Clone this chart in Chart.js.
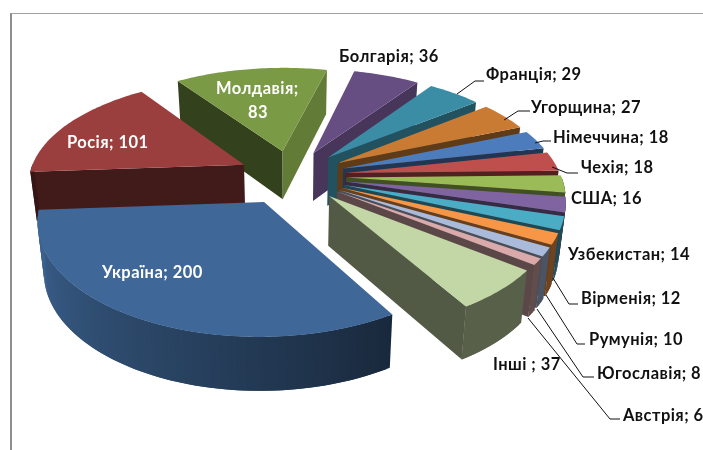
<!DOCTYPE html>
<html>
<head>
<meta charset="utf-8">
<title>Pie</title>
<script src="https://cdn.jsdelivr.net/npm/chart.js@4"></script>
<style>
html, body { margin: 0; padding: 0; background: #fff; }
#wrap { position: relative; width: 703px; height: 450px; overflow: hidden; }
#frame { position: absolute; left: 10px; top: 13px; right: -3px; bottom: -3px; border-left: 2px solid #8e8e8e; border-top: 1px solid #a0a0a0; }
canvas { position: absolute; left: 0; top: 0; }
</style>
</head>
<body>
<div id="wrap">
	<canvas id="pie-chart" width="703" height="450"></canvas>
	<div id="frame"></div>
</div>
<script>
var categories = ['Україна', 'Росія', 'Молдавія', 'Болгарія', 'Франція', 'Угорщина', 'Німеччина', 'Чехія', 'США', 'Узбекистан', 'Вірменія', 'Румунія', 'Югославія', 'Австрія', 'Інші '];
var values = [200, 101, 83, 36, 29, 27, 18, 18, 16, 14, 12, 10, 8, 6, 37];
var sliceColors = ['#3f6797', '#9b3f3e', '#7b9a45', '#674e82', '#3b8da6', '#c97b33', '#4c7cbb', '#be4f4c', '#9bbb59', '#8064a2', '#4bacc6', '#f79646', '#a9badb', '#d9aaa9', '#c3d6a5'];
var sliceOffsets = [42, 39, 39, 39, 39, 39, 39, 39, 39, 39, 39, 39, 39, 39, 39];

// label text anchors (left x, baseline y)
var labelX = [102, 67, 216, 339, 486, 531, 553, 581, 571, 568, 581, 589, 597, 623, 493];
var labelY = [278, 148, 94, 62, 80, 113, 143, 173, 204, 260, 304, 345, 379, 421, 370];
var labelWhite = [true, true, true, false, false, false, false, false, false, false, false, false, false, false, false];

// leader lines
var leaderPaths = [
	[[457, 94], [475, 81], [484, 81]],
	[[504, 120], [518, 111], [530, 111]],
	[[535, 143], [543, 141], [551, 141]],
	[[552, 167], [567, 173], [578, 173]],
	[[553, 278], [569, 304], [578, 304]],
	[[546, 295], [577, 344], [585, 344]],
	[[537, 309], [583, 377], [594, 377]],
	[[528, 318], [610, 419], [620, 419]]
];

// view of the tilted pie
var scaleX = 215, scaleY = 104, perspX = 0.15, perspY = 0.16, depth = 49;

function project(cx, cy, u, v, low) {
	var x = scaleX * u / (1 - perspX * v);
	var y = scaleY * v / (1 - perspY * v);
	if (low) {
		x = x * 0.975;
		y = y + depth * (1 + 0.08 * v);
	}
	return [cx + x, cy + y];
}

function shade(hex, k) {
	var r = parseInt(hex.substr(1, 2), 16) * k;
	var g = parseInt(hex.substr(3, 2), 16) * k;
	var b = parseInt(hex.substr(5, 2), 16) * k;
	return 'rgb(' + Math.round(r) + ',' + Math.round(g) + ',' + Math.round(b) + ')';
}

function fillPoly(ctx, pts, color) {
	ctx.beginPath();
	ctx.moveTo(pts[0][0], pts[0][1]);
	for (var i = 1; i < pts.length; i++) ctx.lineTo(pts[i][0], pts[i][1]);
	ctx.closePath();
	ctx.fillStyle = color;
	ctx.fill();
}

function endWallShade(b) {
	var s = Math.min(0, Math.sin(b));
	return 0.42 + 0.4 * s * s;
}

function rimShade(t) {
	var deg = t * 180 / Math.PI % 360;
	if (deg < 59) return 0.45;
	if (deg > 176.5) return 0.35;
	return 0.4 + 0.57 * Math.min(1, (deg - 59) / 117);
}

function drawSlice(ctx, arc, color) {
	var cx = arc.x, cy = arc.y, r = arc.outerRadius;
	var a = arc.startAngle, b = arc.endAngle, mid = (a + b) / 2;
	var e = arc.options.offset / r;
	var ax = e * Math.cos(mid), ay = e * Math.sin(mid);
	var rimPt = function(t, low) {
		return project(cx, cy, ax + Math.cos(t), ay + Math.sin(t), low);
	};
	var apexTop = project(cx, cy, ax, ay, false);
	var apexLow = project(cx, cy, ax, ay, true);

	// start wall, end wall
	if (-Math.cos(a) > 0) fillPoly(ctx, [apexTop, rimPt(a, false), rimPt(a, true), apexLow], shade(color, 0.42));
	if (Math.cos(b) > 0) fillPoly(ctx, [apexTop, rimPt(b, false), rimPt(b, true), apexLow], shade(color, endWallShade(b)));

	// outer rim, each strip runs under the next so no seams show
	var step = Math.PI / 180;
	for (var t = a; t < b; t += step) {
		var t2 = Math.min(t + step * 2, b);
		if (Math.sin(t + step / 2) > 0) {
			fillPoly(ctx, [rimPt(t, false), rimPt(t2, false), rimPt(t2, true), rimPt(t, true)], shade(color, rimShade(t + step / 2)));
		}
	}

	// top
	var pts = [apexTop];
	for (var q = a; q < b; q += step) pts.push(rimPt(q, false));
	pts.push(rimPt(b, false));
	fillPoly(ctx, pts, color);
}

var tiltPlugin = {
	id: 'tilt',
	beforeDatasetDraw: function(chart, args) {
		var ctx = chart.ctx;
		var arcs = args.meta.data.slice();
		var order = arcs.map(function(arc, i) { return i; });
		order.sort(function(i, j) {
			return Math.sin((arcs[i].startAngle + arcs[i].endAngle) / 2) - Math.sin((arcs[j].startAngle + arcs[j].endAngle) / 2);
		});
		ctx.save();
		order.forEach(function(i) {
			drawSlice(ctx, arcs[i], sliceColors[i]);
		});
		ctx.restore();
		return false;
	},
	afterDraw: function(chart) {
		var ctx = chart.ctx;
		ctx.save();
		ctx.strokeStyle = '#111';
		ctx.lineWidth = 1;
		leaderPaths.forEach(function(p) {
			ctx.beginPath();
			ctx.moveTo(p[0][0], p[0][1]);
			ctx.lineTo(p[1][0], p[1][1]);
			ctx.lineTo(p[2][0], p[2][1]);
			ctx.stroke();
		});
		ctx.font = 'bold 16.5px Lato';
		ctx.letterSpacing = '0.45px';
		ctx.textBaseline = 'alphabetic';
		categories.forEach(function(name, i) {
			ctx.fillStyle = labelWhite[i] ? '#fff' : '#111';
			if (name === 'Молдавія') {
				ctx.fillText(name + ';', labelX[i], labelY[i]);
				ctx.fillText(String(values[i]), labelX[i] + 32, labelY[i] + 24);
			} else {
				ctx.fillText(name + '; ' + values[i], labelX[i], labelY[i]);
			}
		});
		ctx.restore();
	}
};

var pieChart = new Chart(document.getElementById('pie-chart').getContext('2d'), {
	type: 'pie',
	data: {
		labels: categories,
		datasets: [{
			data: values,
			backgroundColor: sliceColors,
			borderWidth: 0,
			offset: sliceOffsets
		}]
	},
	options: {
		responsive: false,
		animation: false,
		rotation: 149,
		layout: { padding: { right: 119, bottom: 98 } },
		plugins: { legend: { display: false }, tooltip: { enabled: false } }
	},
	plugins: [tiltPlugin]
});
</script>
</body>
</html>
